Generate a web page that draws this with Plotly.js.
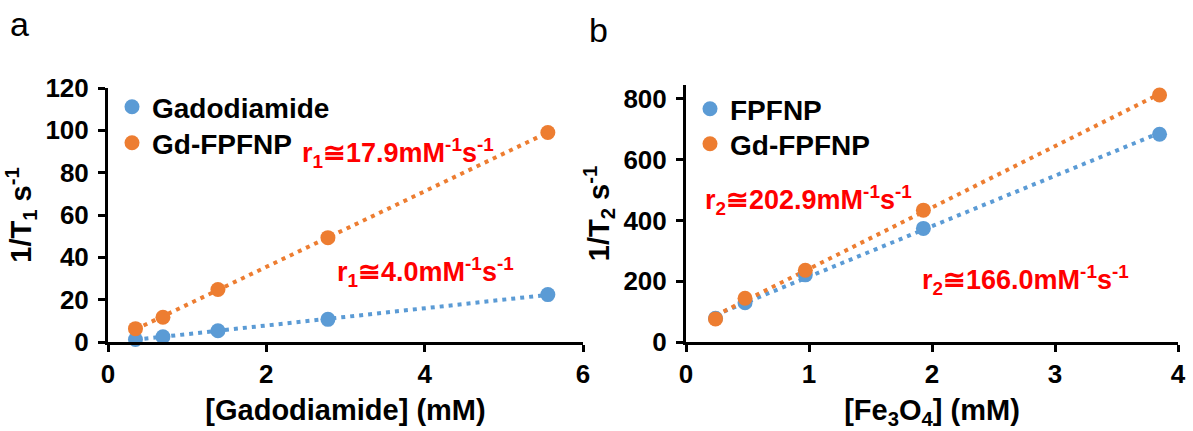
<!DOCTYPE html>
<html><head><meta charset="utf-8">
<script src="https://cdn.plot.ly/plotly-3.0.1.min.js"></script>
<style>html,body{margin:0;padding:0;background:#fff;}#chart{width:1193px;height:431px;}</style>
</head><body><div id="chart"></div>
<script>
// ---- data ----
const concGd = [0.347, 0.694, 1.389, 2.778, 5.556];          // [Gadodiamide] (mM)
const invT1Gadodiamide = [1.2, 2.5, 5.3, 10.7, 22.4];        // 1/T1 (s^-1)
const invT1GdFPFNP = [6.3, 11.7, 24.8, 49.3, 99.0];
const concFe = [0.24, 0.48, 0.97, 1.93, 3.85];               // [Fe3O4] (mM)
const invT2FPFNP = [78, 129, 221, 374, 684];                 // 1/T2 (s^-1)
const invT2GdFPFNP = [76, 144, 236, 434, 813];
const seriesNames = ['Gadodiamide', 'Gd-FPFNP', 'FPFNP', 'Gd-FPFNP'];
const relaxLabels = ['r<sub>1</sub>≅17.9mM<sup>-1</sup>s<sup>-1</sup>', 'r<sub>1</sub>≅4.0mM<sup>-1</sup>s<sup>-1</sup>',
                     'r<sub>2</sub>≅202.9mM<sup>-1</sup>s<sup>-1</sup>', 'r<sub>2</sub>≅166.0mM<sup>-1</sup>s<sup>-1</sup>'];

const BLUE = '#5B9BD5', ORANGE = '#ED7D31';
const FONT = 'Liberation Sans, Arial, sans-serif';
const W = 1193, H = 431;

// least-squares trend line through the data
function trend(x, y) {
  const n = x.length;
  const mx = x.reduce((a, b) => a + b, 0) / n, my = y.reduce((a, b) => a + b, 0) / n;
  let sxy = 0, sxx = 0;
  for (let i = 0; i < n; i++) { sxy += (x[i] - mx) * (y[i] - my); sxx += (x[i] - mx) ** 2; }
  const k = sxy / sxx, b = my - k * mx;
  const xs = [Math.min(...x), Math.max(...x)];
  return { x: xs, y: xs.map(v => k * v + b) };
}

function pts(x, y, name, color, xa, ya, legend) {
  return { type: 'scatter', mode: 'markers', x: x, y: y, name: name, xaxis: xa, yaxis: ya, legend: legend,
           marker: { color: color, size: 15 }, cliponaxis: false };
}
function line(x, y, color, xa, ya) {
  const t = trend(x, y);
  return { type: 'scatter', mode: 'lines', x: t.x, y: t.y, xaxis: xa, yaxis: ya, showlegend: false, hoverinfo: 'skip',
           line: { color: color, width: 4, dash: '4px,5px' } };
}

const data = [
  line(concGd, invT1Gadodiamide, BLUE, 'x', 'y'),
  line(concGd, invT1GdFPFNP, ORANGE, 'x', 'y'),
  line(concFe, invT2FPFNP, BLUE, 'x2', 'y2'),
  line(concFe, invT2GdFPFNP, ORANGE, 'x2', 'y2'),
  pts(concGd, invT1Gadodiamide, seriesNames[0], BLUE, 'x', 'y', 'legend'),
  pts(concGd, invT1GdFPFNP, seriesNames[1], ORANGE, 'x', 'y', 'legend2'),
  pts(concFe, invT2FPFNP, seriesNames[2], BLUE, 'x2', 'y2', 'legend3'),
  pts(concFe, invT2GdFPFNP, seriesNames[3], ORANGE, 'x2', 'y2', 'legend4')
];

const tickfont = { family: FONT, size: 26, color: '#000', weight: 'bold' };
const titlefont = { family: FONT, size: 29, color: '#000', weight: 'bold' };
function axis(extra) {
  return Object.assign({
    showline: true, linecolor: '#000', linewidth: 3, ticks: 'outside', ticklen: 7, tickwidth: 3, tickcolor: '#000',
    showgrid: false, zeroline: false, tickfont: tickfont, fixedrange: true
  }, extra);
}

const L = 108, R = 15, T = 85, B = 89;
const PW = W - L - R, PH = H - T - B;
const legFont = { family: FONT, size: 28, color: '#000', weight: 'bold' };
function leg(px, py) {
  return { x: (px - L) / PW, y: (H - B - py) / PH, xanchor: 'left', yanchor: 'middle', font: legFont,
           bgcolor: 'rgba(0,0,0,0)', borderwidth: 0 };
}
function ann(text, px, py, opts) {
  return Object.assign({ text: text, xref: 'paper', yref: 'paper', x: (px - L) / PW, y: (H - B - py) / PH,
           xanchor: 'left', yanchor: 'middle', showarrow: false,
           font: { family: FONT, size: 27, color: '#FF0000', weight: 'bold' } }, opts || {});
}

const layout = {
  width: W, height: H, margin: { l: L, r: R, t: T, b: B }, paper_bgcolor: '#fff', plot_bgcolor: 'rgba(0,0,0,0)',
  showlegend: true,
  xaxis: axis({ domain: [0, 475 / PW], range: [0, 6], dtick: 2, anchor: 'y',
    title: { text: '[Gadodiamide] (mM)', font: titlefont, standoff: 12 } }),
  yaxis: axis({ domain: [0, (H - B - 88) / PH], range: [0, 120], dtick: 20, anchor: 'x', ticklabelstandoff: 4,
    title: { text: '1/T<sub>1</sub> s<sup>-1</sup>', font: titlefont, standoff: 6 } }),
  xaxis2: axis({ domain: [(686 - L) / PW, 1], range: [0, 4], dtick: 1, anchor: 'y2',
    title: { text: '[Fe<sub>3</sub>O<sub>4</sub>] (mM)', font: titlefont, standoff: 12 } }),
  yaxis2: axis({ domain: [0, 1], range: [0, 846], dtick: 200, anchor: 'x2', ticklabelstandoff: 4,
    title: { text: '1/T<sub>2</sub> s<sup>-1</sup>', font: titlefont, standoff: 6 } }),
  legend: leg(112, 107),
  legend2: leg(112, 143),
  legend3: leg(690, 109),
  legend4: leg(690, 144),
  annotations: [
    ann(relaxLabels[0], 300, 153),
    ann(relaxLabels[1], 335, 272),
    ann(relaxLabels[2], 703, 200),
    ann(relaxLabels[3], 920, 280),
    ann('a', 8, 24, { font: { family: FONT, size: 34, color: '#000' } }),
    ann('b', 587, 30, { font: { family: FONT, size: 34, color: '#000' } })
  ]
};

Plotly.newPlot('chart', data, layout, { displayModeBar: false, staticPlot: true });
</script>
</body></html>
